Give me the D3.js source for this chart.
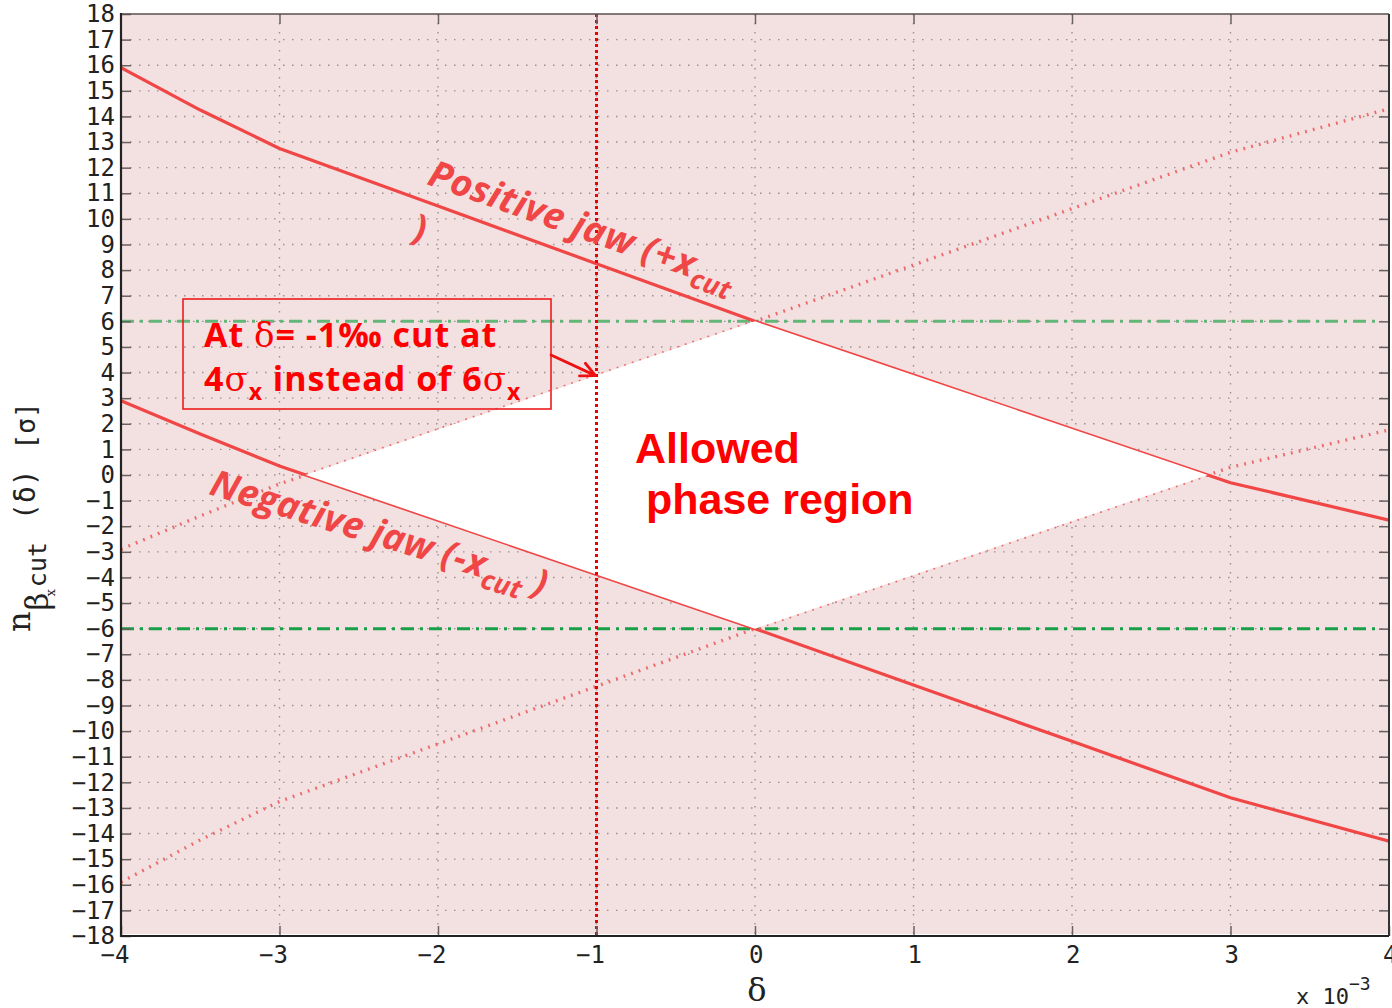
<!DOCTYPE html>
<html lang="en">
<head>
<meta charset="UTF-8">
<title>Allowed phase region</title>
<script src="https://unpkg.com/d3@7/dist/d3.min.js"></script>
<style>
  body { margin: 0; background: #fff; }
  svg { display: block; }
</style>
</head>
<body>
<script>
// ---- data ----
var xTicks = [-4, -3, -2, -1, 0, 1, 2, 3, 4];
var yTicks = [-18, -17, -16, -15, -14, -13, -12, -11, -10, -9, -8, -7, -6, -5, -4, -3, -2, -1,
              0, 1, 2, 3, 4, 5, 6, 7, 8, 9, 10, 11, 12, 13, 14, 15, 16, 17, 18];

// positive jaw (+x cut), solid
var posJaw = [[-4, 15.9], [-3.5, 14.25], [-3, 12.75], [-2, 10.5], [-1, 8.25], [0, 6.0],
              [1, 3.9], [2, 1.8], [3, -0.3], [4, -1.76]];
// negative jaw (-x cut), solid
var negJaw = [[-4, 2.9], [-3.5, 1.6], [-3, 0.35], [-2, -1.77], [-1, -3.88], [0, -6.0],
              [1, -8.2], [2, -10.4], [3, -12.6], [4, -14.3]];
// mirrored jaws, dotted
var negJawMirror = [[-4, -2.9], [-3.5, -1.6], [-3, -0.35], [-2, 1.77], [-1, 3.88], [0, 6.0],
                    [1, 8.2], [2, 10.4], [3, 12.6], [4, 14.3]];
var posJawMirror = [[-4, -15.9], [-3.5, -14.25], [-3, -12.75], [-2, -10.5], [-1, -8.25], [0, -6.0],
                    [1, -3.9], [2, -1.8], [3, 0.3], [4, 1.76]];
// white allowed region
var allowedRegion = [[-2.835, 0], [0, 6.0], [2.857, 0], [0, -6.0]];
var nominalCuts = [6, -6];
var markDelta = -1;

// ---- layout ----
var W = 1392, H = 1008;
var pL = 121, pR = 1389, pT = 14, pB = 936;

var svg = d3.select("body").append("svg")
  .attr("width", W).attr("height", H);

var x = d3.scaleLinear().domain([-4, 4]).range([pL, pR]);
var y = d3.scaleLinear().domain([-18, 18]).range([pB, pT]);

svg.append("defs").append("clipPath").attr("id", "plotclip")
  .append("rect").attr("x", pL).attr("y", pT)
  .attr("width", pR - pL).attr("height", pB - pT);

// pink background
svg.append("rect")
  .attr("x", pL).attr("y", pT)
  .attr("width", pR - pL).attr("height", pB - pT - 2)
  .attr("fill", "#f3e1e1");

// dotted grid
var grid = svg.append("g").attr("class", "grid");
grid.selectAll("line.h").data(yTicks.slice(1, -1)).enter().append("line")
  .attr("x1", pL).attr("x2", pR)
  .attr("y1", d => y(d)).attr("y2", d => y(d))
  .attr("stroke", "#9a9090").attr("stroke-width", 1.4)
  .attr("stroke-dasharray", "1.5,7.5");
grid.selectAll("line.v").data(xTicks.slice(1, -1)).enter().append("line")
  .attr("y1", pT).attr("y2", pB)
  .attr("x1", d => x(d)).attr("x2", d => x(d))
  .attr("stroke", "#9a9090").attr("stroke-width", 1.4)
  .attr("stroke-dasharray", "1.5,7.5");

var plot = svg.append("g").attr("clip-path", "url(#plotclip)");

// green nominal cut lines
plot.selectAll("line.cut").data(nominalCuts).enter().append("line")
  .attr("x1", pL).attr("x2", pR - 14)
  .attr("y1", d => y(d)).attr("y2", d => y(d))
  .attr("stroke", (d, i) => i === 0 ? "#62b678" : "#17a047")
  .attr("stroke-width", 3)
  .attr("stroke-dasharray", "13,6,3,6");

var line = d3.line().x(d => x(d[0])).y(d => y(d[1]));

// dotted mirrored jaws
plot.selectAll("path.mirror").data([negJawMirror, posJawMirror]).enter().append("path")
  .attr("d", line)
  .attr("fill", "none")
  .attr("stroke", "#ee6a6a")
  .attr("stroke-width", 3.4)
  .attr("stroke-dasharray", "1.8,6.2");

// solid jaws
plot.selectAll("path.jaw").data([posJaw, negJaw]).enter().append("path")
  .attr("d", line)
  .attr("fill", "none")
  .attr("stroke", "#f04646")
  .attr("stroke-width", 3.2);

// allowed region (drawn on top, white)
plot.append("path")
  .attr("d", line(allowedRegion) + "Z")
  .attr("fill", "#ffffff");

// red marker at delta = -1
plot.append("line")
  .attr("x1", x(markDelta)).attr("x2", x(markDelta))
  .attr("y1", pT).attr("y2", pB)
  .attr("stroke", "#ee0000")
  .attr("stroke-width", 3)
  .attr("stroke-dasharray", "3,3");

// ---- axes ----
var axisFont = "'DejaVu Sans Mono', monospace";

var yAxis = svg.append("g")
  .attr("transform", "translate(" + pL + ",0)")
  .call(d3.axisLeft(y).tickValues(yTicks).tickSize(-10).tickPadding(6));
var xAxis = svg.append("g")
  .attr("transform", "translate(0," + pB + ")")
  .call(d3.axisBottom(x).tickValues(xTicks).tickSize(-10).tickPadding(10));
var yAxisR = svg.append("g")
  .attr("transform", "translate(" + pR + ",0)")
  .call(d3.axisRight(y).tickValues(yTicks.slice(1, -1)).tickSize(-10).tickFormat(""));
var xAxisT = svg.append("g")
  .attr("transform", "translate(0," + pT + ")")
  .call(d3.axisTop(x).tickValues(xTicks.slice(1, -1)).tickSize(-10).tickFormat(""));

[yAxis, xAxis, yAxisR, xAxisT].forEach(function(g) {
  g.select(".domain").remove();
  g.selectAll(".tick line").attr("stroke", "#6a6060").attr("stroke-width", 1.5);
  g.selectAll("text")
    .attr("font-family", axisFont)
    .attr("font-size", 24)
    .attr("fill", "#222");
});
xAxis.selectAll(".tick text").attr("text-anchor", "end").attr("x", 8);

// frame
svg.append("line").attr("x1", pL).attr("x2", pR).attr("y1", pT).attr("y2", pT)
  .attr("stroke", "#5a4e4e").attr("stroke-width", 1.5);
svg.append("line").attr("x1", pR).attr("x2", pR).attr("y1", pT).attr("y2", pB)
  .attr("stroke", "#333").attr("stroke-width", 2);
svg.append("line").attr("x1", pL).attr("x2", pL).attr("y1", pT - 1).attr("y2", pB + 1)
  .attr("stroke", "#222").attr("stroke-width", 2.2);
svg.append("line").attr("x1", pL).attr("x2", pR).attr("y1", pB).attr("y2", pB)
  .attr("stroke", "#222").attr("stroke-width", 2.2);

// axis labels
svg.append("text")
  .attr("x", 757).attr("y", 1001)
  .attr("text-anchor", "middle")
  .attr("font-family", "'DejaVu Serif', serif")
  .attr("font-size", 32)
  .attr("fill", "#222")
  .text("δ");

var mult = svg.append("text")
  .attr("x", 1296).attr("y", 1004)
  .attr("font-family", axisFont)
  .attr("font-size", 22)
  .attr("fill", "#222");
mult.append("tspan").text("x 10");
mult.append("tspan").attr("dy", -14).attr("font-size", 18).text("−3");

var ylab = svg.append("text")
  .attr("transform", "translate(30,632) rotate(-90)")
  .attr("font-family", "'DejaVu Serif', serif")
  .attr("fill", "#222")
  .attr("font-size", 32);
ylab.append("tspan").text("n");
ylab.append("tspan").attr("font-size", 31).attr("dy", 18).attr("dx", 1).text("β");
ylab.append("tspan").attr("font-size", 13).attr("dy", 7).attr("dx", -4).text("x");
ylab.append("tspan").attr("font-size", 25).attr("dy", -9).attr("dx", 2)
  .attr("font-family", axisFont).text("cut");
ylab.append("tspan").attr("font-size", 28).attr("dy", -11).attr("dx", 22)
  .attr("font-family", axisFont).text("(δ)");
ylab.append("tspan").attr("font-size", 26).attr("dx", 20)
  .attr("font-family", axisFont).text("[σ]");

// ---- annotations ----
var sans = "'Open Sans', 'Liberation Sans', sans-serif";
var jawColor = "#f04646";

var posLab = svg.append("text")
  .attr("transform", "translate(426,184) rotate(19.5)")
  .attr("font-family", sans).attr("font-weight", 700).attr("font-style", "italic")
  .attr("font-size", 37).attr("letter-spacing", 0.5).attr("fill", jawColor);
posLab.append("tspan").text("Positive jaw (+x");
posLab.append("tspan").attr("font-size", 27).attr("dy", 9).text("cut");

svg.append("text")
  .attr("transform", "translate(410,238) rotate(20)")
  .attr("font-family", sans).attr("font-weight", 700)
  .attr("font-size", 37).attr("fill", jawColor)
  .text(")");

var negLab = svg.append("text")
  .attr("transform", "translate(208,494) rotate(17)")
  .attr("font-family", sans).attr("font-weight", 700).attr("font-style", "italic")
  .attr("font-size", 37).attr("letter-spacing", 0.3).attr("fill", jawColor);
negLab.append("tspan").text("Negative jaw (-x");
negLab.append("tspan").attr("font-size", 27).attr("dy", 10).text("cut");
negLab.append("tspan").attr("dy", -10).text(" )");

var allowed = svg.append("g")
  .attr("font-family", "'Liberation Sans', Arial, sans-serif")
  .attr("font-weight", 700).attr("font-size", 43).attr("fill", "#ff0000");
allowed.append("text").attr("x", 635).attr("y", 463).text("Allowed");
allowed.append("text").attr("x", 646).attr("y", 514).text("phase region");

// box annotation
svg.append("rect")
  .attr("x", 183).attr("y", 299).attr("width", 368).attr("height", 110)
  .attr("fill", "none").attr("stroke", "#ee1c1c").attr("stroke-width", 1.6);

var boxFont = "'Open Sans', 'Liberation Sans', sans-serif";
var t1 = svg.append("text")
  .attr("x", 204).attr("y", 347)
  .attr("font-family", boxFont).attr("font-weight", 700)
  .attr("font-size", 34).attr("letter-spacing", 1).attr("fill", "#ff0000");
t1.append("tspan").text("At ");
t1.append("tspan").attr("font-family", "'DejaVu Serif', serif").attr("font-weight", 400).text("δ");
t1.append("tspan").text("= -1‰ cut at");

var t2 = svg.append("text")
  .attr("x", 204).attr("y", 391)
  .attr("font-family", boxFont).attr("font-weight", 700)
  .attr("font-size", 34).attr("letter-spacing", 1).attr("fill", "#ff0000");
t2.append("tspan").text("4");
t2.append("tspan").attr("font-family", "'DejaVu Serif', serif").attr("font-weight", 400).text("σ");
t2.append("tspan").attr("font-size", 23).attr("dy", 9).text("x");
t2.append("tspan").attr("dy", -9).text(" instead of 6");
t2.append("tspan").attr("font-family", "'DejaVu Serif', serif").attr("font-weight", 400).text("σ");
t2.append("tspan").attr("font-size", 23).attr("dy", 9).text("x");

// arrow to the cut point
var tip = [x(markDelta) - 1, y(negJawMirror[4][1])];
var tail = [551, 355];
var ang = Math.atan2(tip[1] - tail[1], tip[0] - tail[0]);
var head = 16, spread = 0.45;
svg.append("path")
  .attr("d", "M" + tail + "L" + tip +
    "M" + [tip[0] - head * Math.cos(ang - spread), tip[1] - head * Math.sin(ang - spread)] +
    "L" + tip +
    "L" + [tip[0] - head * Math.cos(ang + spread), tip[1] - head * Math.sin(ang + spread)])
  .attr("fill", "none").attr("stroke", "#ee1111").attr("stroke-width", 2.8)
  .attr("stroke-linecap", "round").attr("stroke-linejoin", "round");
</script>
</body>
</html>
